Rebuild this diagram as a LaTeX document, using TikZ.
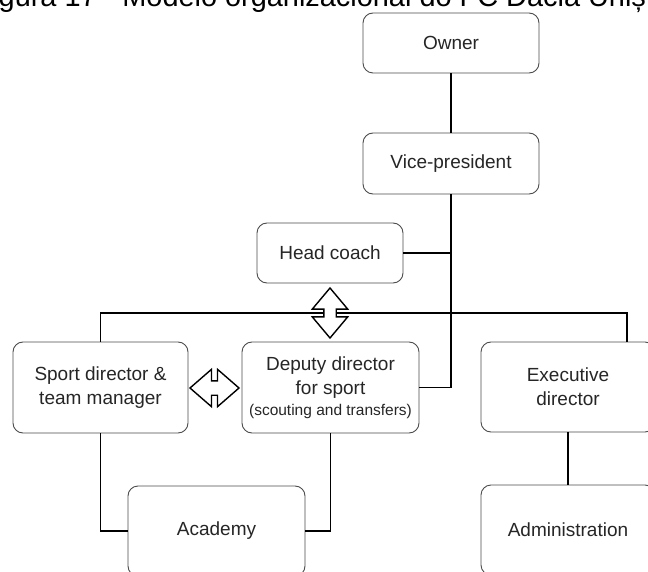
\documentclass[tikz,border=0pt]{standalone}
\usepackage{fontspec}
\setmainfont{Liberation Sans}
\usetikzlibrary{shapes.arrows}
\begin{document}
\begin{tikzpicture}[x=1pt,y=-1pt,
  box/.style={draw=black!70, line width=0.9pt, rounded corners=10pt, fill=white,
    align=center, text=black!85, font=\fontsize{19}{24}\selectfont, inner sep=0pt},
  link/.style={line width=1.8pt, draw=black},
  dblarrow/.style={double arrow, draw=black, line width=1.4pt, fill=white,
    double arrow head extend=11.5pt}
]
\useasboundingbox (0,0) rectangle (648,572);
\clip (0,0) rectangle (648,572);

% caption line at the top
\node[anchor=base west, inner sep=0pt, font=\fontsize{28.9}{30}\selectfont] (title)
  at (-1.5,7) {gura 17 - Modelo organizacional do FC Dacia Uniș};

% boxes
\node[box, minimum width=176pt, minimum height=60pt] (owner) at (451,43) {Owner};
\node[box, minimum width=176pt, minimum height=61pt] (vp) at (451,163.5) {Vice-president};
\node[box, minimum width=146pt, minimum height=60pt] (hc) at (330,253) {Head coach};
\node[box, minimum width=175pt, minimum height=91pt] (sport) at (100.5,387.5)
  {Sport director \&\\team manager};
\node[box, minimum width=177pt, minimum height=91pt] (dep) at (330.5,387.5)
  {Deputy director\\for sport\\[-3pt]{\fontsize{15.5}{18}\selectfont (scouting and transfers)}};
\node[box, minimum width=174pt, minimum height=90pt] (exec) at (568,387)
  {Executive\\director};
\node[box, minimum width=177pt, minimum height=90pt] (acad) at (216.5,531) {Academy};
\node[box, minimum width=174pt, minimum height=90pt] (admin) at (568,530) {Administration};

% reporting lines
\coordinate (busR) at (627,313);
\draw[link] (owner.south) -- (vp.north);
\draw[link] (vp.south) |- (dep.east);
\draw[link] (hc.east) -- (hc.east -| vp.south);
\draw[link] (sport.north) |- (busR) -- (busR |- exec.north);
\draw[link] (sport.south) |- (acad.west);
\draw[link] (dep.south) |- (acad.east);
\draw[link] (exec.south) -- (admin.north);

% two-way cooperation arrows
\node[dblarrow, shape border rotate=90, inner sep=5.5pt, minimum height=50pt,
  double arrow tip angle=80] (coop1) at (330,313) {};
\node[dblarrow, inner sep=6.5pt, minimum height=49pt,
  double arrow tip angle=82] (coop2) at (214.5,388) {};
\end{tikzpicture}
\end{document}
